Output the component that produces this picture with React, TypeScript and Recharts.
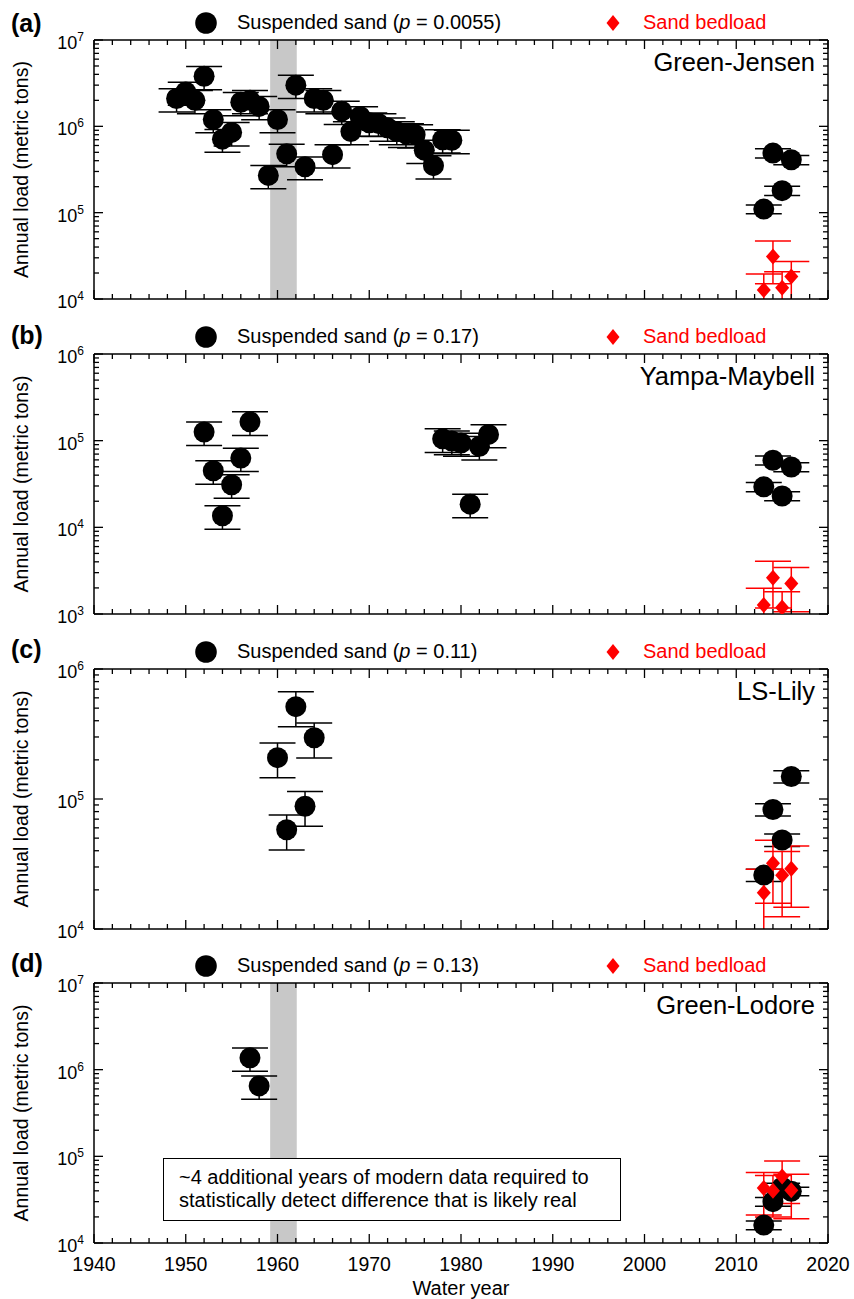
import React from 'react';
import { ScatterChart, Scatter, XAxis, YAxis, ErrorBar, ReferenceArea } from 'recharts';

const FONT = '"Liberation Sans", Arial, Helvetica, sans-serif';

// ---------- Panel (a) Green-Jensen ----------
const jensenYears = [1949, 1950, 1951, 1952, 1953, 1954, 1955, 1956, 1957, 1958, 1959, 1960, 1961, 1962, 1963, 1964, 1965, 1966, 1967, 1968, 1969, 1970, 1971, 1972, 1973, 1974, 1975, 1976, 1977, 1978, 1979, 2013, 2014, 2015, 2016];
const jensenSusp = [2100000, 2500000, 2000000, 3800000, 1200000, 710000, 850000, 1900000, 2000000, 1700000, 270000, 1200000, 480000, 3000000, 340000, 2100000, 2000000, 470000, 1500000, 870000, 1300000, 1100000, 1080000, 960000, 870000, 820000, 800000, 530000, 350000, 700000, 690000, 110000, 490000, 180000, 410000];
const jensenSuspErr = [630000, 750000, 600000, 1140000, 360000, 210000, 260000, 570000, 600000, 510000, 81000, 360000, 140000, 900000, 100000, 630000, 600000, 140000, 450000, 260000, 390000, 330000, 320000, 290000, 260000, 250000, 240000, 160000, 105000, 210000, 210000, 13000, 60000, 22000, 50000];
const jensenBedYears = [2013, 2014, 2015, 2016];
const jensenBed = [12700, 31000, 13500, 18200];
const jensenBedErr = [6800, 16000, 7200, 9000];

// ---------- Panel (b) Yampa-Maybell ----------
const yampaYears = [1952, 1953, 1954, 1955, 1956, 1957, 1978, 1979, 1980, 1981, 1982, 1983, 2013, 2014, 2015, 2016];
const yampaSusp = [126000, 45000, 13600, 31000, 63000, 165000, 105000, 99000, 94000, 18500, 86000, 118000, 29300, 59500, 23000, 49700];
const yampaSuspErr = [38000, 13500, 4100, 9300, 19000, 50000, 32000, 30000, 28000, 5600, 26000, 35000, 3500, 7000, 2800, 6000];
const yampaBedYears = [2013, 2014, 2015, 2016];
const yampaBed = [1270, 2620, 1190, 2250];
const yampaBedErr = [710, 1450, 620, 1190];

// ---------- Panel (c) LS-Lily ----------
const lilyYears = [1960, 1961, 1962, 1963, 1964, 2013, 2014, 2015, 2016];
const lilySusp = [208000, 58000, 513000, 88000, 296000, 26000, 83000, 48400, 149000];
const lilySuspErr = [62000, 17400, 154000, 26400, 89000, 2800, 9000, 5300, 16000];
const lilyBedYears = [2013, 2014, 2015, 2016];
const lilyBed = [19000, 32000, 25900, 29100];
const lilyBedErr = [9800, 16200, 13500, 14400];

// ---------- Panel (d) Green-Lodore ----------
const lodoreYears = [1957, 1958, 2013, 2014, 2015, 2016];
const lodoreSusp = [1370000, 650000, 16100, 30000, 44000, 39500];
const lodoreSuspErr = [410000, 195000, 1900, 3400, 5000, 4500];
const lodoreBedYears = [2013, 2014, 2015, 2016];
const lodoreBed = [43000, 40000, 58500, 40600];
const lodoreBedErr = [22000, 20000, 30000, 21500];

// ---------- Labels ----------
const panelLetters = ['(a)', '(b)', '(c)', '(d)'];
const siteNames = ['Green-Jensen', 'Yampa-Maybell', 'LS-Lily', 'Green-Lodore'];
const pValues = ['0.0055', '0.17', '0.11', '0.13'];
const suspLabel = 'Suspended sand';
const bedLabel = 'Sand bedload';
const yLabel = 'Annual load (metric tons)';
const xLabel = 'Water year';
const noteLines = ['~4 additional years of modern data required to', 'statistically detect difference that is likely real'];
const damBand = [1959.2, 1962.1];
const xDomain = [1940, 2020];
const xTicks = Array.from({ length: 41 }, (_, i) => 1940 + i * 2);

const W = 854;
const PLOT_LEFT = 94;
const PLOT_RIGHT = 828;

function logTicks(lo: number, hi: number) {
  const out: number[] = [];
  for (let d = lo; d < hi * 1.0001; d *= 10) {
    for (let k = 1; k <= 9; k++) {
      const v = d * k;
      if (v <= hi * 1.0001) out.push(v);
    }
  }
  return out;
}
const isDecade = (v: number) => Math.abs(Math.log10(v) - Math.round(Math.log10(v))) < 1e-9;

const mk = (xs: number[], ys: number[], es: number[]) => xs.map((x, i) => ({ x, y: ys[i], err: es[i] }));

const Circle = (props: any) => {
  const { cx, cy } = props;
  if (cx == null || cy == null) return null;
  return <circle cx={cx} cy={cy} r={10.5} fill="#000" />;
};
const Diamond = (props: any) => {
  const { cx, cy } = props;
  if (cx == null || cy == null) return null;
  return <path d={`M${cx},${cy - 8} L${cx + 7},${cy} L${cx},${cy + 8} L${cx - 7},${cy} Z`} fill="#ff0000" />;
};

const TL = 1.3;

const bottomTick = (labels: boolean) => (props: any) => {
  const { x, y, payload } = props;
  const major = payload.value % 10 === 0;
  return (
    <g>
      <line x1={x} x2={x} y1={y} y2={y - (major ? 9 : 5)} stroke="#000" strokeWidth={TL} />
      {labels && major && (
        <text x={x} y={y + 28} textAnchor="middle" fontSize={19.5} fontFamily={FONT} fill="#000">
          {payload.value}
        </text>
      )}
    </g>
  );
};
const topTick = (props: any) => {
  const { x, y, payload } = props;
  const major = payload.value % 10 === 0;
  return <line x1={x} x2={x} y1={y} y2={y + (major ? 9 : 5)} stroke="#000" strokeWidth={TL} />;
};
const leftTick = (props: any) => {
  const { x, y, payload } = props;
  const v = payload.value;
  const major = isDecade(v);
  return (
    <g>
      <line x1={x} x2={x + (major ? 9 : 5)} y1={y} y2={y} stroke="#000" strokeWidth={TL} />
      {major && (
        <text x={x - 10} y={y + 9} textAnchor="end" fontSize={18} fontFamily={FONT} fill="#000">
          10
          <tspan fontSize={12} dy={-8}>
            {Math.round(Math.log10(v))}
          </tspan>
        </text>
      )}
    </g>
  );
};
const rightTick = (props: any) => {
  const { x, y, payload } = props;
  const major = isDecade(payload.value);
  return <line x1={x} x2={x - (major ? 9 : 5)} y1={y} y2={y} stroke="#000" strokeWidth={TL} />;
};

const axisLine = { stroke: '#000', strokeWidth: 1.5 };

type PanelProps = {
  id: string;
  top: number;
  plotTop: number;
  plotH: number;
  bottom: number;
  yMin: number;
  yMax: number;
  susp: any[];
  bed: any[];
  band: boolean;
  xLabels: boolean;
};

function Panel(p: PanelProps) {
  const marginTop = p.plotTop - p.top;
  const height = marginTop + p.plotH + p.bottom;
  const yTicks = logTicks(p.yMin, p.yMax);
  const clipId = `errclip-${p.id}`;
  return (
    <div className={`panel-${p.id}`} style={{ position: 'absolute', left: 0, top: p.top }}>
      <svg width={0} height={0} style={{ position: 'absolute' }}>
        <defs>
          <clipPath id={clipId} clipPathUnits="userSpaceOnUse">
            <rect x={PLOT_LEFT} y={marginTop} width={PLOT_RIGHT - PLOT_LEFT} height={p.plotH} />
          </clipPath>
        </defs>
      </svg>
      <style>{`.panel-${p.id} .recharts-errorBars, .panel-${p.id} .recharts-errorBar { clip-path: url(#${clipId}); }`}</style>
      <ScatterChart
        width={W}
        height={height}
        margin={{ top: marginTop - 1, right: W - PLOT_RIGHT - 1, bottom: p.bottom - 1, left: 0 }}
      >
        <XAxis
          xAxisId="b"
          type="number"
          dataKey="x"
          domain={xDomain}
          allowDataOverflow
          ticks={xTicks}
          interval={0}
          tickSize={0}
          tickMargin={0}
          tickLine={false}
          axisLine={axisLine}
          height={1}
          tick={bottomTick(p.xLabels)}
          label={
            p.xLabels
              ? { value: xLabel, position: 'bottom', offset: 37, style: { fontSize: 20, fontFamily: FONT, fill: '#000' } }
              : undefined
          }
        />
        <XAxis
          xAxisId="t"
          orientation="top"
          type="number"
          dataKey="x"
          domain={xDomain}
          allowDataOverflow
          ticks={xTicks}
          interval={0}
          tickSize={0}
          tickMargin={0}
          tickLine={false}
          axisLine={axisLine}
          height={1}
          tick={topTick}
        />
        <YAxis
          yAxisId="l"
          type="number"
          dataKey="y"
          scale="log"
          domain={[p.yMin, p.yMax]}
          allowDataOverflow
          ticks={yTicks}
          interval={0}
          width={PLOT_LEFT}
          tickSize={0}
          tickMargin={0}
          tickLine={false}
          axisLine={axisLine}
          tick={leftTick}
          label={{
            value: yLabel,
            angle: -90,
            position: 'insideLeft',
            offset: 21.5,
            style: { textAnchor: 'middle', fontSize: 19.5, fontFamily: FONT, fill: '#000' },
          }}
        />
        <YAxis
          yAxisId="r"
          orientation="right"
          type="number"
          dataKey="y"
          scale="log"
          domain={[p.yMin, p.yMax]}
          allowDataOverflow
          ticks={yTicks}
          interval={0}
          width={1}
          tickSize={0}
          tickMargin={0}
          tickLine={false}
          axisLine={axisLine}
          tick={rightTick}
        />
        {p.band && (
          <ReferenceArea
            xAxisId="b"
            yAxisId="l"
            x1={damBand[0]}
            x2={damBand[1]}
            y1={p.yMin}
            y2={p.yMax}
            fill="#c8c8c8"
            fillOpacity={1}
            stroke="none"
          />
        )}
        <Scatter xAxisId="b" yAxisId="l" data={p.susp} dataKey="y" isAnimationActive={false} shape={Circle}>
          <ErrorBar dataKey="err" direction="y" width={18} stroke="#000" strokeWidth={1.5} isAnimationActive={false} />
        </Scatter>
        <Scatter xAxisId="b" yAxisId="l" data={p.bed} dataKey="y" isAnimationActive={false} shape={Diamond}>
          <ErrorBar dataKey="err" direction="y" width={18} stroke="#ff0000" strokeWidth={1.5} isAnimationActive={false} />
        </Scatter>
      </ScatterChart>
    </div>
  );
}

const panels = [
  { id: 'a', top: 0, plotTop: 40, plotH: 259, bottom: 16, yMin: 1e4, yMax: 1e7, susp: mk(jensenYears, jensenSusp, jensenSuspErr), bed: mk(jensenBedYears, jensenBed, jensenBedErr), band: true, xLabels: false },
  { id: 'b', top: 314, plotTop: 354, plotH: 260, bottom: 16, yMin: 1e3, yMax: 1e6, susp: mk(yampaYears, yampaSusp, yampaSuspErr), bed: mk(yampaBedYears, yampaBed, yampaBedErr), band: false, xLabels: false },
  { id: 'c', top: 629, plotTop: 669, plotH: 260, bottom: 16, yMin: 1e4, yMax: 1e6, susp: mk(lilyYears, lilySusp, lilySuspErr), bed: mk(lilyBedYears, lilyBed, lilyBedErr), band: false, xLabels: false },
  { id: 'd', top: 943, plotTop: 983, plotH: 260, bottom: 56, yMin: 1e4, yMax: 1e7, susp: mk(lodoreYears, lodoreSusp, lodoreSuspErr), bed: mk(lodoreBedYears, lodoreBed, lodoreBedErr), band: true, xLabels: true },
];
const letterY = [32, 344, 658, 972];

export default function App() {
  return (
    <div style={{ position: 'absolute', left: 0, top: 0, width: W, height: 1299, background: '#fff', overflow: 'hidden' }}>
      {panels.map((p) => (
        <Panel key={p.id} {...p} />
      ))}
      <svg width={W} height={1299} style={{ position: 'absolute', left: 0, top: 0, pointerEvents: 'none' }} fontFamily={FONT}>
        {panels.map((p, i) => (
          <g key={i}>
            <text x={11} y={letterY[i]} fontSize={25} fontWeight="bold" fill="#000">
              {panelLetters[i]}
            </text>
            <circle cx={206} cy={p.plotTop - 17} r={10.8} fill="#000" />
            <text x={237} y={p.plotTop - 11} fontSize={20} fill="#000">
              {suspLabel} (<tspan fontStyle="italic">p</tspan>
              {' = ' + pValues[i] + ')'}
            </text>
            <path
              d={`M613,${p.plotTop - 25} L619.5,${p.plotTop - 17} L613,${p.plotTop - 9} L606.5,${p.plotTop - 17} Z`}
              fill="#ff0000"
            />
            <text x={643} y={p.plotTop - 11} fontSize={20} fill="#ff0000">
              {bedLabel}
            </text>
            <text x={815} y={p.plotTop + 31} fontSize={25.5} textAnchor="end" fill="#000">
              {siteNames[i]}
            </text>
          </g>
        ))}
      </svg>
      <div
        style={{
          position: 'absolute',
          left: 163,
          top: 1158,
          width: 458,
          height: 63,
          boxSizing: 'border-box',
          border: '1.5px solid #000',
          background: '#fff',
          fontFamily: FONT,
          fontSize: 20,
          lineHeight: '23px',
          paddingLeft: 15,
          paddingTop: 7,
          color: '#000',
          whiteSpace: 'nowrap',
        }}
      >
        {noteLines.map((l, i) => (
          <div key={i}>{l}</div>
        ))}
      </div>
    </div>
  );
}
